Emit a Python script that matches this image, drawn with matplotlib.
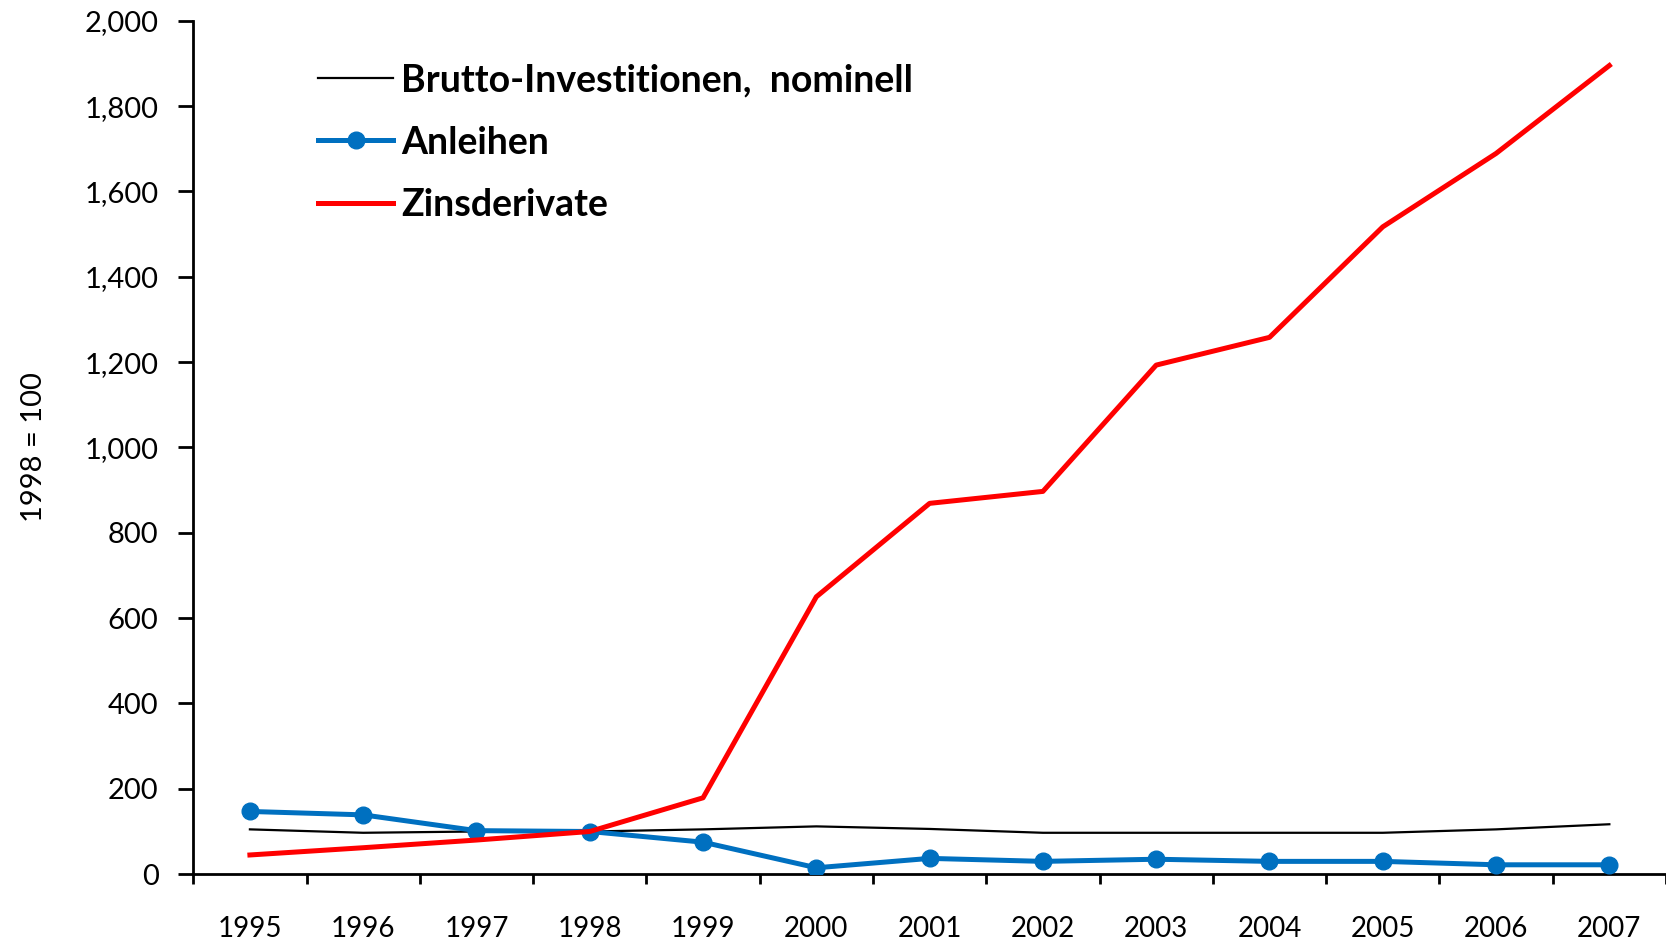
import matplotlib
matplotlib.use("Agg")
import matplotlib.pyplot as plt
from matplotlib.ticker import FuncFormatter, FixedLocator
import numpy as np

years = ["1995", "1996", "1997", "1998", "1999", "2000", "2001",
         "2002", "2003", "2004", "2005", "2006", "2007"]
brutto = [105, 97, 100, 100, 105, 112, 106, 97, 97, 97, 97, 105, 117]
anleihen = [147, 139, 102, 100, 75, 15, 37, 30, 35, 30, 30, 22, 22]
zinsderivate = [45, 62, 80, 100, 179, 650, 869, 897, 1193, 1258, 1517, 1689, 1895]
y_ticks = [0, 200, 400, 600, 800, 1000, 1200, 1400, 1600, 1800, 2000]
labels = ["Brutto-Investitionen,  nominell", "Anleihen", "Zinsderivate"]
ylabel = "1998 = 100"

plt.rcParams['font.family'] = ['Lato', 'DejaVu Sans']

fig = plt.figure(figsize=(16.66, 9.42), dpi=100)
ax = fig.add_axes([0.116, 0.072, 0.884, 0.906])

x = np.arange(len(years))
ax.plot(x, brutto, color="black", lw=1.6, label=labels[0], zorder=3)
ax.plot(x, anleihen, color="#0070C0", lw=3.6, marker="o", markersize=12,
        label=labels[1], zorder=4)
ax.plot(x, zinsderivate, color="#FF0000", lw=3.6, label=labels[2], zorder=5)

ax.set_xlim(-0.5, len(years) - 0.5)
ax.set_ylim(0, 2000)
ax.set_yticks(y_ticks)
ax.yaxis.set_major_formatter(FuncFormatter(lambda v, p: f"{int(v):,}"))
ax.set_xticks(x)
ax.set_xticklabels(years)
ax.xaxis.set_minor_locator(FixedLocator(np.arange(-0.5, len(years) - 0.4, 1.0)))
ax.tick_params(axis="x", which="major", length=0, pad=30, labelsize=20)
ax.tick_params(axis="x", which="minor", length=7, width=2, direction="out")
ax.tick_params(axis="y", length=11, width=2, direction="out", pad=14, labelsize=21)

for s in ["top", "right"]:
    ax.spines[s].set_visible(False)
for s in ["left", "bottom"]:
    ax.spines[s].set_linewidth(2)

ax.set_ylabel(ylabel, fontsize=21, labelpad=27)

leg = ax.legend(loc="upper left", bbox_to_anchor=(0.062, 0.99), frameon=False,
                prop={"weight": "bold", "size": 27}, handlelength=2.0,
                handletextpad=0.2, labelspacing=0.76)

fig.savefig("out.png", dpi=100)
